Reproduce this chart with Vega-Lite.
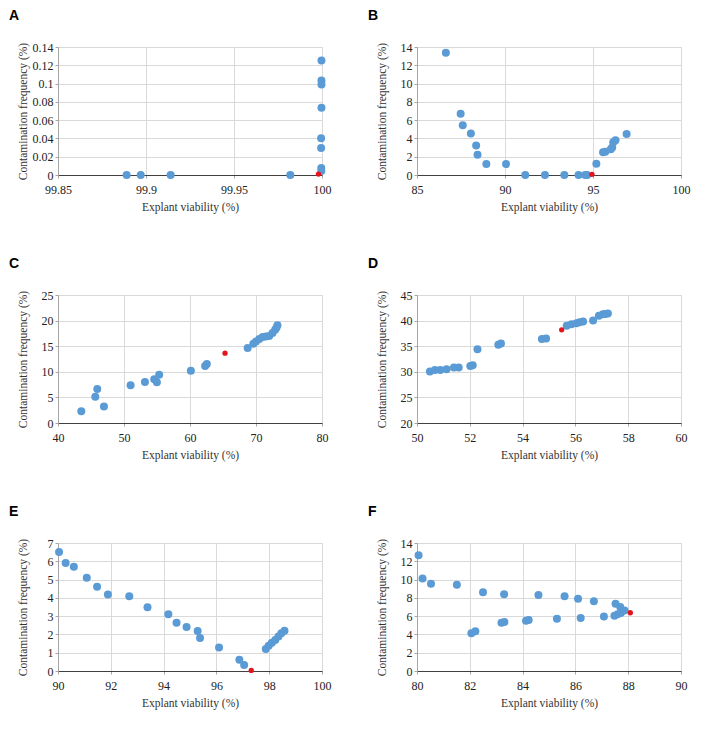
{
  "$schema": "https://vega.github.io/schema/vega-lite/v6.json",
  "padding": {"left": 8, "top": 8, "right": 10, "bottom": 6},
  "background": "white",
  "datasets": {
    "pts": [
      {"p": "A", "x": 99.889, "y": 0, "h": "n"},
      {"p": "A", "x": 99.897, "y": 0, "h": "n"},
      {"p": "A", "x": 99.914, "y": 0, "h": "n"},
      {"p": "A", "x": 99.982, "y": 0, "h": "n"},
      {"p": "A", "x": 99.9997, "y": 0.1251, "h": "n"},
      {"p": "A", "x": 99.9997, "y": 0.1034, "h": "n"},
      {"p": "A", "x": 99.9997, "y": 0.0990, "h": "n"},
      {"p": "A", "x": 99.9997, "y": 0.0735, "h": "n"},
      {"p": "A", "x": 99.9995, "y": 0.0402, "h": "n"},
      {"p": "A", "x": 99.9995, "y": 0.0295, "h": "n"},
      {"p": "A", "x": 99.9996, "y": 0.0076, "h": "n"},
      {"p": "A", "x": 99.9996, "y": 0.0045, "h": "n"},
      {"p": "A", "x": 99.998, "y": 0.001, "h": "r"},

      {"p": "B", "x": 86.64, "y": 13.38, "h": "n"},
      {"p": "B", "x": 87.48, "y": 6.69, "h": "n"},
      {"p": "B", "x": 87.60, "y": 5.45, "h": "n"},
      {"p": "B", "x": 88.06, "y": 4.55, "h": "n"},
      {"p": "B", "x": 88.36, "y": 3.24, "h": "n"},
      {"p": "B", "x": 88.44, "y": 2.22, "h": "n"},
      {"p": "B", "x": 88.94, "y": 1.2, "h": "n"},
      {"p": "B", "x": 90.06, "y": 1.2, "h": "n"},
      {"p": "B", "x": 91.15, "y": 0, "h": "n"},
      {"p": "B", "x": 92.27, "y": 0, "h": "n"},
      {"p": "B", "x": 93.37, "y": 0, "h": "n"},
      {"p": "B", "x": 94.18, "y": 0, "h": "n"},
      {"p": "B", "x": 94.56, "y": 0, "h": "n"},
      {"p": "B", "x": 94.67, "y": 0, "h": "n"},
      {"p": "B", "x": 94.94, "y": 0.07, "h": "r"},
      {"p": "B", "x": 95.19, "y": 1.23, "h": "n"},
      {"p": "B", "x": 95.57, "y": 2.5, "h": "n"},
      {"p": "B", "x": 95.70, "y": 2.55, "h": "n"},
      {"p": "B", "x": 96.01, "y": 2.82, "h": "n"},
      {"p": "B", "x": 96.09, "y": 3.0, "h": "n"},
      {"p": "B", "x": 96.15, "y": 3.58, "h": "n"},
      {"p": "B", "x": 96.28, "y": 3.8, "h": "n"},
      {"p": "B", "x": 96.91, "y": 4.48, "h": "n"},

      {"p": "C", "x": 43.53, "y": 2.3, "h": "n"},
      {"p": "C", "x": 45.65, "y": 5.13, "h": "n"},
      {"p": "C", "x": 45.95, "y": 6.64, "h": "n"},
      {"p": "C", "x": 46.96, "y": 3.22, "h": "n"},
      {"p": "C", "x": 51.0, "y": 7.37, "h": "n"},
      {"p": "C", "x": 53.17, "y": 8.03, "h": "n"},
      {"p": "C", "x": 54.58, "y": 8.55, "h": "n"},
      {"p": "C", "x": 54.98, "y": 7.96, "h": "n"},
      {"p": "C", "x": 55.33, "y": 9.41, "h": "n"},
      {"p": "C", "x": 60.13, "y": 10.2, "h": "n"},
      {"p": "C", "x": 62.29, "y": 11.12, "h": "n"},
      {"p": "C", "x": 62.55, "y": 11.5, "h": "n"},
      {"p": "C", "x": 65.31, "y": 13.64, "h": "r"},
      {"p": "C", "x": 68.73, "y": 14.63, "h": "n"},
      {"p": "C", "x": 69.6, "y": 15.5, "h": "n"},
      {"p": "C", "x": 70.0, "y": 15.9, "h": "n"},
      {"p": "C", "x": 70.5, "y": 16.4, "h": "n"},
      {"p": "C", "x": 71.0, "y": 16.8, "h": "n"},
      {"p": "C", "x": 71.5, "y": 16.9, "h": "n"},
      {"p": "C", "x": 72.0, "y": 17.0, "h": "n"},
      {"p": "C", "x": 72.5, "y": 17.6, "h": "n"},
      {"p": "C", "x": 72.9, "y": 18.2, "h": "n"},
      {"p": "C", "x": 73.1, "y": 18.6, "h": "n"},
      {"p": "C", "x": 73.25, "y": 19.1, "h": "n"},

      {"p": "D", "x": 50.49, "y": 30.04, "h": "n"},
      {"p": "D", "x": 50.68, "y": 30.36, "h": "n"},
      {"p": "D", "x": 50.88, "y": 30.36, "h": "n"},
      {"p": "D", "x": 51.12, "y": 30.49, "h": "n"},
      {"p": "D", "x": 51.40, "y": 30.82, "h": "n"},
      {"p": "D", "x": 51.58, "y": 30.82, "h": "n"},
      {"p": "D", "x": 52.02, "y": 31.14, "h": "n"},
      {"p": "D", "x": 52.11, "y": 31.27, "h": "n"},
      {"p": "D", "x": 52.29, "y": 34.38, "h": "n"},
      {"p": "D", "x": 53.08, "y": 35.3, "h": "n"},
      {"p": "D", "x": 53.18, "y": 35.55, "h": "n"},
      {"p": "D", "x": 54.73, "y": 36.4, "h": "n"},
      {"p": "D", "x": 54.89, "y": 36.5, "h": "n"},
      {"p": "D", "x": 55.48, "y": 38.2, "h": "r"},
      {"p": "D", "x": 55.67, "y": 39.0, "h": "n"},
      {"p": "D", "x": 55.85, "y": 39.3, "h": "n"},
      {"p": "D", "x": 56.04, "y": 39.5, "h": "n"},
      {"p": "D", "x": 56.16, "y": 39.7, "h": "n"},
      {"p": "D", "x": 56.29, "y": 39.8, "h": "n"},
      {"p": "D", "x": 56.67, "y": 40.0, "h": "n"},
      {"p": "D", "x": 56.89, "y": 40.95, "h": "n"},
      {"p": "D", "x": 57.04, "y": 41.25, "h": "n"},
      {"p": "D", "x": 57.13, "y": 41.3, "h": "n"},
      {"p": "D", "x": 57.23, "y": 41.4, "h": "n"},

      {"p": "E", "x": 90.04, "y": 6.51, "h": "n"},
      {"p": "E", "x": 90.29, "y": 5.91, "h": "n"},
      {"p": "E", "x": 90.6, "y": 5.70, "h": "n"},
      {"p": "E", "x": 91.09, "y": 5.10, "h": "n"},
      {"p": "E", "x": 91.48, "y": 4.61, "h": "n"},
      {"p": "E", "x": 91.89, "y": 4.18, "h": "n"},
      {"p": "E", "x": 92.70, "y": 4.09, "h": "n"},
      {"p": "E", "x": 93.39, "y": 3.49, "h": "n"},
      {"p": "E", "x": 94.18, "y": 3.11, "h": "n"},
      {"p": "E", "x": 94.49, "y": 2.64, "h": "n"},
      {"p": "E", "x": 94.87, "y": 2.41, "h": "n"},
      {"p": "E", "x": 95.29, "y": 2.19, "h": "n"},
      {"p": "E", "x": 95.38, "y": 1.81, "h": "n"},
      {"p": "E", "x": 96.10, "y": 1.28, "h": "n"},
      {"p": "E", "x": 96.87, "y": 0.61, "h": "n"},
      {"p": "E", "x": 97.05, "y": 0.33, "h": "n"},
      {"p": "E", "x": 97.32, "y": 0.03, "h": "r"},
      {"p": "E", "x": 97.87, "y": 1.2, "h": "n"},
      {"p": "E", "x": 97.98, "y": 1.38, "h": "n"},
      {"p": "E", "x": 98.10, "y": 1.54, "h": "n"},
      {"p": "E", "x": 98.23, "y": 1.7, "h": "n"},
      {"p": "E", "x": 98.35, "y": 1.88, "h": "n"},
      {"p": "E", "x": 98.46, "y": 2.06, "h": "n"},
      {"p": "E", "x": 98.58, "y": 2.2, "h": "n"},

      {"p": "F", "x": 80.06, "y": 12.66, "h": "n"},
      {"p": "F", "x": 80.21, "y": 10.13, "h": "n"},
      {"p": "F", "x": 80.53, "y": 9.55, "h": "n"},
      {"p": "F", "x": 81.51, "y": 9.44, "h": "n"},
      {"p": "F", "x": 82.5, "y": 8.61, "h": "n"},
      {"p": "F", "x": 83.3, "y": 8.39, "h": "n"},
      {"p": "F", "x": 84.6, "y": 8.32, "h": "n"},
      {"p": "F", "x": 85.59, "y": 8.18, "h": "n"},
      {"p": "F", "x": 86.1, "y": 7.89, "h": "n"},
      {"p": "F", "x": 86.70, "y": 7.63, "h": "n"},
      {"p": "F", "x": 87.52, "y": 7.36, "h": "n"},
      {"p": "F", "x": 87.70, "y": 7.0, "h": "n"},
      {"p": "F", "x": 87.86, "y": 6.62, "h": "n"},
      {"p": "F", "x": 82.06, "y": 4.12, "h": "n"},
      {"p": "F", "x": 82.21, "y": 4.34, "h": "n"},
      {"p": "F", "x": 83.2, "y": 5.28, "h": "n"},
      {"p": "F", "x": 83.31, "y": 5.35, "h": "n"},
      {"p": "F", "x": 84.13, "y": 5.5, "h": "n"},
      {"p": "F", "x": 84.23, "y": 5.57, "h": "n"},
      {"p": "F", "x": 85.3, "y": 5.72, "h": "n"},
      {"p": "F", "x": 86.2, "y": 5.8, "h": "n"},
      {"p": "F", "x": 87.08, "y": 5.95, "h": "n"},
      {"p": "F", "x": 87.48, "y": 6.05, "h": "n"},
      {"p": "F", "x": 87.6, "y": 6.2, "h": "n"},
      {"p": "F", "x": 87.72, "y": 6.35, "h": "n"},
      {"p": "F", "x": 88.08, "y": 6.37, "h": "r"}
    ]
  },
  "columns": 2,
  "spacing": {"row": 120, "column": 95},
  "bounds": "flush",
  "concat": [
    {
      "title": "A",
      "width": 264, "height": 128,
      "data": {"name": "pts"},
      "transform": [{"filter": "datum.p === 'A'"}],
      "mark": {"type": "circle", "opacity": 1},
      "encoding": {
        "x": {"field": "x", "type": "quantitative", "title": "Explant viability (%)", "scale": {"domain": [99.85, 100], "nice": false, "zero": false}, "axis": {"values": [99.85, 99.9, 99.95, 100], "format": "~g"}},
        "y": {"field": "y", "type": "quantitative", "title": "Contamination frequency (%)", "scale": {"domain": [0, 0.14], "nice": false}, "axis": {"values": [0, 0.02, 0.04, 0.06, 0.08, 0.1, 0.12, 0.14], "format": "~g"}},
        "color": {"field": "h", "type": "nominal", "scale": {"domain": ["n", "r"], "range": ["#5b9bd5", "#e3141c"]}, "legend": null},
        "size": {"field": "h", "type": "ordinal", "scale": {"domain": ["n", "r"], "range": [64, 28]}, "legend": null},
        "order": {"field": "h"}
      }
    },
    {
      "title": "B",
      "width": 264, "height": 128,
      "data": {"name": "pts"},
      "transform": [{"filter": "datum.p === 'B'"}],
      "mark": {"type": "circle", "opacity": 1},
      "encoding": {
        "x": {"field": "x", "type": "quantitative", "title": "Explant viability (%)", "scale": {"domain": [85, 100], "nice": false, "zero": false}, "axis": {"values": [85, 90, 95, 100]}},
        "y": {"field": "y", "type": "quantitative", "title": "Contamination frequency (%)", "scale": {"domain": [0, 14], "nice": false}, "axis": {"values": [0, 2, 4, 6, 8, 10, 12, 14]}},
        "color": {"field": "h", "type": "nominal", "scale": {"domain": ["n", "r"], "range": ["#5b9bd5", "#e3141c"]}, "legend": null},
        "size": {"field": "h", "type": "ordinal", "scale": {"domain": ["n", "r"], "range": [64, 28]}, "legend": null},
        "order": {"field": "h"}
      }
    },
    {
      "title": "C",
      "width": 264, "height": 128,
      "data": {"name": "pts"},
      "transform": [{"filter": "datum.p === 'C'"}],
      "mark": {"type": "circle", "opacity": 1},
      "encoding": {
        "x": {"field": "x", "type": "quantitative", "title": "Explant viability (%)", "scale": {"domain": [40, 80], "nice": false, "zero": false}, "axis": {"values": [40, 50, 60, 70, 80]}},
        "y": {"field": "y", "type": "quantitative", "title": "Contamination frequency (%)", "scale": {"domain": [0, 25], "nice": false}, "axis": {"values": [0, 5, 10, 15, 20, 25]}},
        "color": {"field": "h", "type": "nominal", "scale": {"domain": ["n", "r"], "range": ["#5b9bd5", "#e3141c"]}, "legend": null},
        "size": {"field": "h", "type": "ordinal", "scale": {"domain": ["n", "r"], "range": [64, 28]}, "legend": null},
        "order": {"field": "h"}
      }
    },
    {
      "title": "D",
      "width": 264, "height": 128,
      "data": {"name": "pts"},
      "transform": [{"filter": "datum.p === 'D'"}],
      "mark": {"type": "circle", "opacity": 1},
      "encoding": {
        "x": {"field": "x", "type": "quantitative", "title": "Explant viability (%)", "scale": {"domain": [50, 60], "nice": false, "zero": false}, "axis": {"values": [50, 52, 54, 56, 58, 60]}},
        "y": {"field": "y", "type": "quantitative", "title": "Contamination frequency (%)", "scale": {"domain": [20, 45], "nice": false, "zero": false}, "axis": {"values": [20, 25, 30, 35, 40, 45]}},
        "color": {"field": "h", "type": "nominal", "scale": {"domain": ["n", "r"], "range": ["#5b9bd5", "#e3141c"]}, "legend": null},
        "size": {"field": "h", "type": "ordinal", "scale": {"domain": ["n", "r"], "range": [64, 28]}, "legend": null},
        "order": {"field": "h"}
      }
    },
    {
      "title": "E",
      "width": 264, "height": 128,
      "data": {"name": "pts"},
      "transform": [{"filter": "datum.p === 'E'"}],
      "mark": {"type": "circle", "opacity": 1},
      "encoding": {
        "x": {"field": "x", "type": "quantitative", "title": "Explant viability (%)", "scale": {"domain": [90, 100], "nice": false, "zero": false}, "axis": {"values": [90, 92, 94, 96, 98, 100]}},
        "y": {"field": "y", "type": "quantitative", "title": "Contamination frequency (%)", "scale": {"domain": [0, 7], "nice": false}, "axis": {"values": [0, 1, 2, 3, 4, 5, 6, 7]}},
        "color": {"field": "h", "type": "nominal", "scale": {"domain": ["n", "r"], "range": ["#5b9bd5", "#e3141c"]}, "legend": null},
        "size": {"field": "h", "type": "ordinal", "scale": {"domain": ["n", "r"], "range": [64, 28]}, "legend": null},
        "order": {"field": "h"}
      }
    },
    {
      "title": "F",
      "width": 264, "height": 128,
      "data": {"name": "pts"},
      "transform": [{"filter": "datum.p === 'F'"}],
      "mark": {"type": "circle", "opacity": 1},
      "encoding": {
        "x": {"field": "x", "type": "quantitative", "title": "Explant viability (%)", "scale": {"domain": [80, 90], "nice": false, "zero": false}, "axis": {"values": [80, 82, 84, 86, 88, 90]}},
        "y": {"field": "y", "type": "quantitative", "title": "Contamination frequency (%)", "scale": {"domain": [0, 14], "nice": false}, "axis": {"values": [0, 2, 4, 6, 8, 10, 12, 14]}},
        "color": {"field": "h", "type": "nominal", "scale": {"domain": ["n", "r"], "range": ["#5b9bd5", "#e3141c"]}, "legend": null},
        "size": {"field": "h", "type": "ordinal", "scale": {"domain": ["n", "r"], "range": [64, 28]}, "legend": null},
        "order": {"field": "h"}
      }
    }
  ],
  "config": {
    "view": {"stroke": "#d9d9d9"},
    "font": "Liberation Serif",
    "axis": {
      "labelFont": "Liberation Serif", "labelFontSize": 12, "labelColor": "#222222",
      "titleFont": "Liberation Serif", "titleFontSize": 11.5, "titleFontWeight": "normal", "titleColor": "#333333",
      "gridColor": "#d9d9d9", "tickColor": "#a6a6a6", "tickSize": 3,
      "labelFlush": false, "labelOverlap": false
    },
    "axisX": {"labelFont": "Liberation Serif", "titleFont": "Liberation Serif", "domainColor": "#404040", "labelPadding": 6, "titlePadding": 6},
    "axisY": {"labelFont": "Liberation Serif", "titleFont": "Liberation Serif", "domainColor": "#a6a6a6", "labelPadding": 2, "titleX": -30},
    "title": {"font": "Liberation Sans", "fontSize": 14, "fontWeight": "bold", "color": "#000000", "anchor": "start", "frame": "group", "offset": 18, "dx": -49}
  }
}
